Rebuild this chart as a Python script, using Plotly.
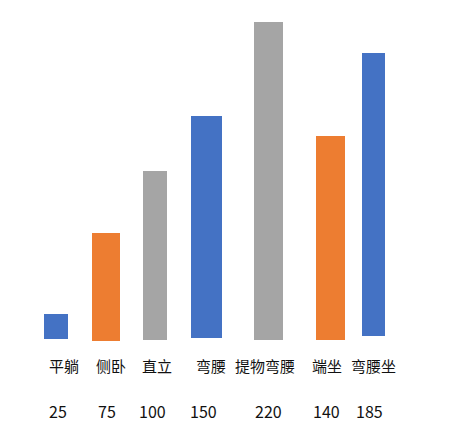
import plotly.graph_objs as go

# categories and the numbers printed under them
categories = ["平躺", "侧卧", "直立", "弯腰", "提物弯腰", "端坐", "弯腰坐"]
value_labels = [25, 75, 100, 150, 220, 140, 185]
# bar lengths as drawn in the picture (not proportional to the labels)
bar_heights = [25, 108, 169, 222, 318, 204, 283]

# layout of the hand-placed bars and texts
bar_x = [56, 106, 155, 206.5, 268.5, 330.5, 373.5]
bar_w = [24, 28, 24, 31, 29, 29, 23]
bar_base = [1, -1, 0, 2, 0, 0, 4]
name_x = [64, 111, 156.5, 211, 264.5, 326.5, 373]
num_x = [57.5, 106.5, 152, 203, 268.5, 326, 369]

BLUE, ORANGE, GRAY = "#4472C4", "#ED7D31", "#A5A5A5"
colors = [BLUE, ORANGE, GRAY, BLUE, GRAY, ORANGE, BLUE]

fig = go.Figure()
fig.add_trace(go.Bar(x=bar_x, y=bar_heights, base=bar_base, width=bar_w,
                     marker=dict(color=colors, line=dict(width=0)),
                     hovertext=categories, showlegend=False))

font = "Noto Sans CJK SC, Microsoft YaHei, sans-serif"
for xn, name in zip(name_x, categories):
    fig.add_annotation(x=xn, y=-25, xref="x", yref="y", text=name,
                       showarrow=False, font=dict(family=font, size=15, color="#111"))
for xv, v in zip(num_x, value_labels):
    fig.add_annotation(x=xv, y=-71, xref="x", yref="y", text=str(v),
                       showarrow=False, font=dict(family=font, size=16, color="#111"))

# page body has an 8px margin, so the figure is 8px smaller and starts at (8, 8)
fig.update_layout(width=442, height=417, margin=dict(l=0, r=0, t=0, b=0),
                  paper_bgcolor="white", plot_bgcolor="white",
                  xaxis=dict(range=[8, 450], visible=False),
                  yaxis=dict(range=[-85, 332], visible=False))

fig.write_html("out.html")
